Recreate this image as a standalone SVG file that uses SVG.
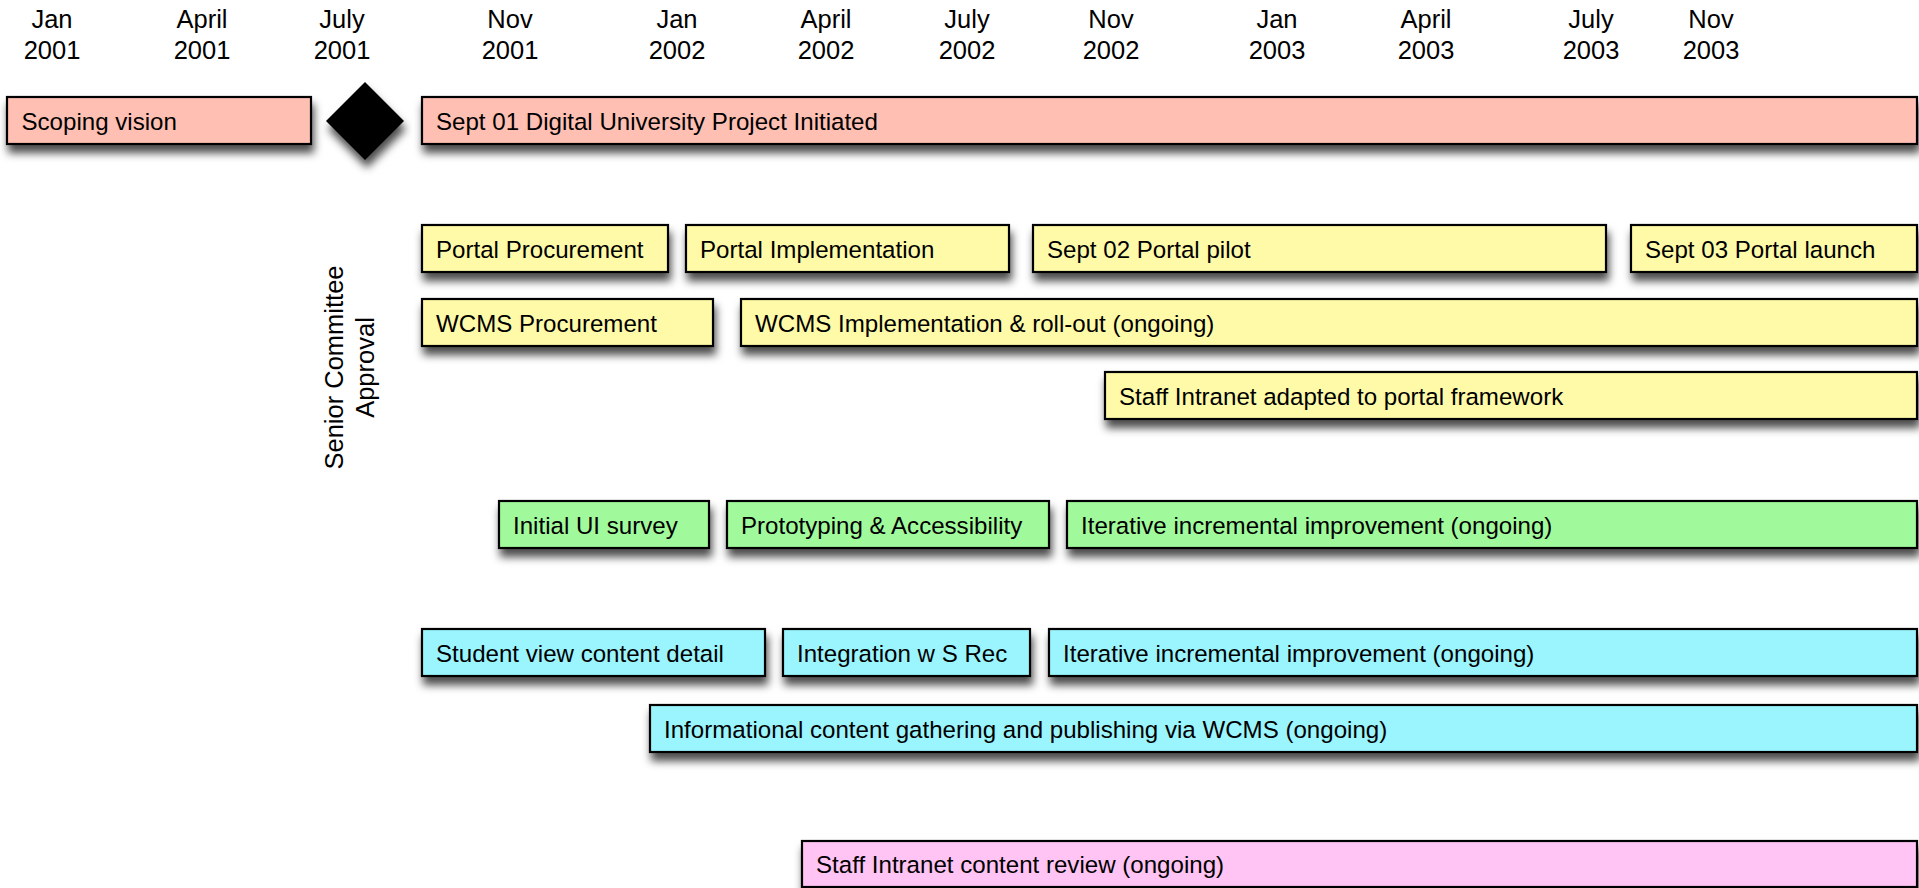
<svg xmlns="http://www.w3.org/2000/svg" width="1919" height="888" viewBox="0 0 1919 888">
<style>
.hdr{font-family:"Liberation Sans",Arial,sans-serif;font-size:25.5px;fill:#000;text-anchor:middle}
.bx{stroke:#000;stroke-width:2.2}
.lbl{font-family:"Liberation Sans",Arial,sans-serif;font-size:24.1px;fill:#000}
.salmon{fill:#ffbfb2}
.yellow{fill:#fffaa8}
.green{fill:#a0fa9c}
.cyan{fill:#9bf5ff}
.pink{fill:#ffc4f4}
.sh{filter:url(#shadow)}
</style>
<defs>
<filter id="shadow" x="-5%" y="-40%" width="115%" height="200%">
<feDropShadow dx="2" dy="8" stdDeviation="4.5" flood-color="#000" flood-opacity="0.7"/>
</filter>
</defs>
<rect width="1919" height="888" fill="#fff"/>
<g id="timeline-header">
<text class="hdr" x="52" y="27.5">Jan<tspan x="52" y="59">2001</tspan></text>
<text class="hdr" x="202" y="27.5">April<tspan x="202" y="59">2001</tspan></text>
<text class="hdr" x="342" y="27.5">July<tspan x="342" y="59">2001</tspan></text>
<text class="hdr" x="510" y="27.5">Nov<tspan x="510" y="59">2001</tspan></text>
<text class="hdr" x="677" y="27.5">Jan<tspan x="677" y="59">2002</tspan></text>
<text class="hdr" x="826" y="27.5">April<tspan x="826" y="59">2002</tspan></text>
<text class="hdr" x="967" y="27.5">July<tspan x="967" y="59">2002</tspan></text>
<text class="hdr" x="1111" y="27.5">Nov<tspan x="1111" y="59">2002</tspan></text>
<text class="hdr" x="1277" y="27.5">Jan<tspan x="1277" y="59">2003</tspan></text>
<text class="hdr" x="1426" y="27.5">April<tspan x="1426" y="59">2003</tspan></text>
<text class="hdr" x="1591" y="27.5">July<tspan x="1591" y="59">2003</tspan></text>
<text class="hdr" x="1711" y="27.5">Nov<tspan x="1711" y="59">2003</tspan></text>
</g>
<g id="connectors"></g>
<g id="scoping-vision"><rect class="bx salmon sh" x="7" y="97" width="304" height="47"/><text class="lbl" x="21.5" y="130">Scoping vision</text></g>
<g id="approval-milestone"><polygon class="sh" points="365,82 404,121 365,160 326,121" fill="#000"/></g>
<g id="approval-label"><text class="hdr" transform="translate(342.5,367.5) rotate(-90)" x="0" y="0">Senior Committee<tspan x="0" dy="31.7">Approval</tspan></text></g>
<g id="project-initiated"><rect class="bx salmon sh" x="422" y="97" width="1495" height="47"/><text class="lbl" x="436" y="130">Sept 01 Digital University Project Initiated</text></g>
<g id="portal-procurement"><rect class="bx yellow sh" x="422" y="225" width="246" height="47"/><text class="lbl" x="436" y="258">Portal Procurement</text></g>
<g id="portal-implementation"><rect class="bx yellow sh" x="686" y="225" width="323" height="47"/><text class="lbl" x="700" y="258">Portal Implementation</text></g>
<g id="portal-pilot"><rect class="bx yellow sh" x="1033" y="225" width="573" height="47"/><text class="lbl" x="1047" y="258">Sept 02 Portal pilot</text></g>
<g id="portal-launch"><rect class="bx yellow sh" x="1631" y="225" width="286" height="47"/><text class="lbl" x="1645" y="258">Sept 03 Portal launch</text></g>
<g id="wcms-procurement"><rect class="bx yellow sh" x="422" y="299" width="291" height="47"/><text class="lbl" x="436" y="332">WCMS Procurement</text></g>
<g id="wcms-implementation"><rect class="bx yellow sh" x="741" y="299" width="1176" height="47"/><text class="lbl" x="755" y="332">WCMS Implementation &amp; roll-out (ongoing)</text></g>
<g id="staff-intranet-adapted"><rect class="bx yellow sh" x="1105" y="372" width="812" height="47"/><text class="lbl" x="1119" y="405">Staff Intranet adapted to portal framework</text></g>
<g id="initial-ui-survey"><rect class="bx green sh" x="499" y="501" width="210" height="47"/><text class="lbl" x="513" y="534">Initial UI survey</text></g>
<g id="prototyping"><rect class="bx green sh" x="727" y="501" width="322" height="47"/><text class="lbl" x="741" y="534">Prototyping &amp; Accessibility</text></g>
<g id="iterative-ui"><rect class="bx green sh" x="1067" y="501" width="850" height="47"/><text class="lbl" x="1081" y="534">Iterative incremental improvement (ongoing)</text></g>
<g id="student-view"><rect class="bx cyan sh" x="422" y="629" width="343" height="47"/><text class="lbl" x="436" y="662">Student view content detail</text></g>
<g id="integration"><rect class="bx cyan sh" x="783" y="629" width="247" height="47"/><text class="lbl" x="797" y="662">Integration w S Rec</text></g>
<g id="iterative-content"><rect class="bx cyan sh" x="1049" y="629" width="868" height="47"/><text class="lbl" x="1063" y="662">Iterative incremental improvement (ongoing)</text></g>
<g id="informational-content"><rect class="bx cyan sh" x="650" y="705" width="1267" height="47"/><text class="lbl" x="664" y="738">Informational content gathering and publishing via WCMS (ongoing)</text></g>
<g id="staff-intranet-review"><rect class="bx pink sh" x="802" y="841" width="1115" height="46"/><text class="lbl" x="816" y="873">Staff Intranet content review (ongoing)</text></g>
</svg>
